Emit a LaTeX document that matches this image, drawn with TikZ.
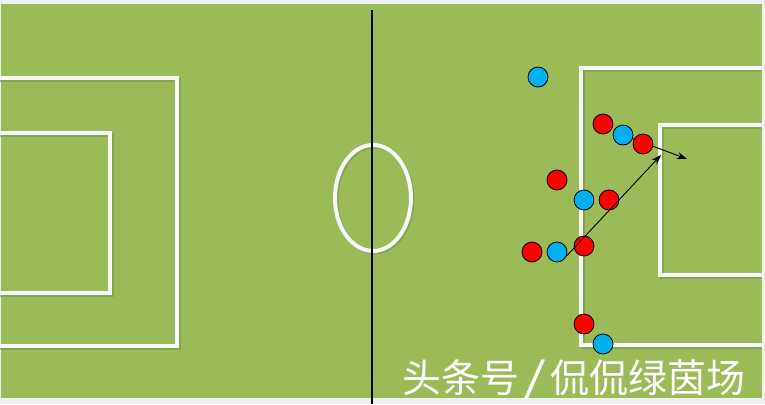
\documentclass[tikz,border=0pt]{standalone}
\usepackage{fontspec}
\newfontfamily\cjk{Noto Sans CJK SC}
\usetikzlibrary{arrows.meta}
\definecolor{grass}{HTML}{9BBB59}
\definecolor{grassdark}{HTML}{7A9446}
\definecolor{paper}{HTML}{EEF1F4}
\definecolor{kitblue}{HTML}{00B0F0}
\definecolor{kitred}{HTML}{FF0000}
\begin{document}
\begin{tikzpicture}[x=1pt, y=-1pt,
  red/.style={draw, circle, fill=kitred, minimum size=20pt, inner sep=0pt, line width=0.8pt},
  blue/.style={draw, circle, fill=kitblue, minimum size=20pt, inner sep=0pt, line width=0.8pt},
  chalk/.style={draw=white!94!gray, line width=4pt},
  shade/.style={draw=grassdark, line width=4pt, opacity=0.6},
  move/.style={-{Stealth[length=10pt, width=7pt]}, line width=0.9pt}]
\useasboundingbox (0,0) rectangle (765,404);
\fill[paper] (0,0) rectangle (765,404);
\fill[grass] (1,4) rectangle (762,398);
\draw[shade] (0,79.5) -- (178.5,79.5) -- (178.5,347.5) -- (0,347.5);
\draw[shade] (0,134.5) -- (111.5,134.5) -- (111.5,294.5) -- (0,294.5);
\draw[shade] (762,69.5) -- (582.5,69.5) -- (582.5,346.5) -- (762,346.5);
\draw[shade] (762,126.5) -- (661.5,126.5) -- (661.5,276.5) -- (762,276.5);
\draw[shade] (374.5,199.5) ellipse (38 and 53);
\draw[chalk] (0,78) -- (177,78) -- (177,346) -- (0,346);
\draw[chalk] (0,133) -- (110,133) -- (110,293) -- (0,293);
\draw[chalk] (762,68) -- (581,68) -- (581,345) -- (762,345);
\draw[chalk] (762,125) -- (660,125) -- (660,275) -- (762,275);
\draw[chalk] (373,198) ellipse (38 and 53);
\coordinate (halfway top) at (372,10);
\coordinate (halfway bottom) at (372,404);
\draw[line width=1.2pt] (halfway top) -- (halfway bottom);
\node[blue] (b0) at (538,77) {};
\node[red] (r1) at (603,124) {};
\node[blue] (b1) at (623,135) {};
\coordinate (run) at (687,159);
\draw[move] (b1) -- (run);
\node[red] (r2) at (643,144) {};
\node[red] (r3) at (557,180) {};
\node[blue] (b2) at (584,200) {};
\node[red] (r4) at (609,200) {};
\node[red] (r5) at (532,252) {};
\node[blue] (b3) at (557,252) {};
\node[red] (r6) at (584,246) {};
\node[red] (r7) at (584,324) {};
\node[blue] (b4) at (603,344) {};
\coordinate (pass) at (661,155);
\draw[move] (b3.-22) -- (pass);
\node[anchor=base west, inner sep=0pt, text=white, font=\cjk\fontsize{39}{39}\selectfont] (mark) at (402,392) {头条号\makebox[31pt]{\scalebox{1.5}[1.05]{/}}侃侃绿茵场};
\end{tikzpicture}
\end{document}
